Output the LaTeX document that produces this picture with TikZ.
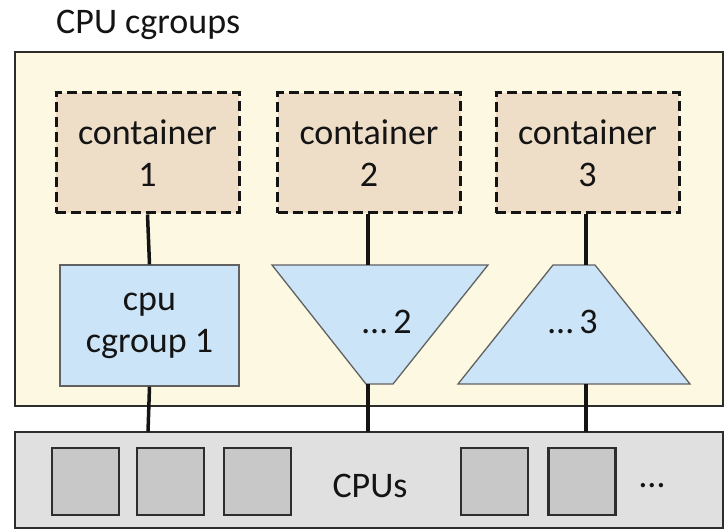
\documentclass[tikz,border=0pt]{standalone}
\usepackage{fontspec}
\setmainfont{Carlito}
\definecolor{cream}{RGB}{253,248,225}
\definecolor{tan}{RGB}{238,222,200}
\definecolor{lblue}{RGB}{204,228,247}
\definecolor{lgray}{RGB}{224,224,224}
\definecolor{mgray}{RGB}{200,200,200}
\definecolor{ink}{RGB}{20,20,20}
\definecolor{edge}{RGB}{45,45,45}
\begin{document}
\begin{tikzpicture}[x=1pt,y=-1pt,
  every node/.style={font=\fontsize{36}{42}\selectfont, text=ink},
  outerbox/.style={draw=edge, line width=2.5pt},
  contbox/.style={draw=ink, fill=tan, dash pattern=on 10pt off 5pt, line width=3pt, minimum width=183pt, minimum height=120pt, inner sep=0pt, align=center},
  cgbox/.style={draw=edge!75, fill=lblue, line width=1.3pt, minimum width=179pt, minimum height=121pt, inner sep=0pt, align=center},
  trap/.style={draw=edge!75, fill=lblue, line width=1.3pt},
  cpusq/.style={draw=edge, fill=mgray, line width=2.5pt, minimum width=67pt, minimum height=67pt, inner sep=0pt},
  conn/.style={draw=ink, line width=3.5pt}]
\useasboundingbox (0,0) rectangle (725,529);
% title
\node[anchor=base west, inner sep=0pt] (title) at (56,34) {CPU cgroups};
% outer boxes
\draw[outerbox, fill=cream] (15,52) rectangle (723,406);
\draw[outerbox, fill=lgray] (15,432) rectangle (723,528);
\coordinate (cpustop1) at (148,432);
\coordinate (cpustop2) at (368,432);
\coordinate (cpustop3) at (586,432);
% containers
\node[contbox] (c1) at (147.5,153) {container\\1};
\node[contbox] (c2) at (369,153) {container\\2};
\node[contbox] (c3) at (587.5,153) {container\\3};
% cgroup 1
\node[cgbox] (cg1) at (149.5,325.5) {cpu\\cgroup 1};
% trapezoid 2 (inverted)
\draw[trap] (272,265) -- (488,265) -- (393,384) -- (366,384) -- cycle;
\node (t2) at (387,322) {\ldots\,2};
\coordinate (t2top) at (368,265);
\coordinate (t2bot) at (368,384);
% trapezoid 3
\draw[trap] (553,265) -- (595,265) -- (690,384) -- (458,384) -- cycle;
\node (t3) at (573,322) {\ldots\,3};
\coordinate (t3top) at (586,265);
\coordinate (t3bot) at (586,384);
% connectors
\draw[conn] (c1.south) -- (cg1.north);
\draw[conn] (cg1.south) -- (cpustop1);
\draw[conn] (c2.south -| t2top) -- (t2top);
\draw[conn] (t2bot) -- (cpustop2);
\draw[conn] (c3.south -| t3top) -- (t3top);
\draw[conn] (t3bot) -- (cpustop3);
% CPUs
\node[cpusq] (s1) at (85.5,481.5) {};
\node[cpusq] (s2) at (170.5,481.5) {};
\node[cpusq] (s3) at (257.5,481.5) {};
\node[cpusq] (s4) at (494.5,481.5) {};
\node[cpusq] (s5) at (582,481.5) {};
\node (cpus) at (370,486) {CPUs};
\node (dots) at (652,486) {\ldots};
\end{tikzpicture}
\end{document}
